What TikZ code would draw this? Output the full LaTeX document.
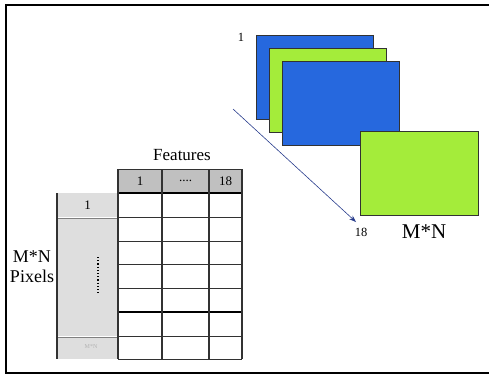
\documentclass[tikz,border=0pt]{standalone}
\usepackage{fontspec}
\setmainfont{Liberation Serif}
\usetikzlibrary{arrows.meta}
\definecolor{sblue}{RGB}{38,104,222}
\definecolor{sgreen}{RGB}{164,236,58}
\definecolor{hgray}{RGB}{192,192,192}
\definecolor{lgray}{RGB}{222,222,222}
\definecolor{tline}{RGB}{50,50,50}
\definecolor{arrowc}{RGB}{40,60,140}
\tikzset{
  sheet/.style={draw=tline, line width=1pt, anchor=north west, minimum width=117pt, minimum height=84pt, inner sep=0pt},
  bluesheet/.style={sheet, fill=sblue},
  greensheet/.style={sheet, fill=sgreen},
  lbl/.style={inner sep=0pt, font=\fontsize{12.5}{14}\selectfont},
  cellnum/.style={inner sep=0pt, font=\fontsize{13}{15}\selectfont},
  vline/.style={draw=tline, line width=1.6pt},
  hline/.style={draw=tline, line width=0.8pt},
}
\begin{document}
\begin{tikzpicture}[x=1pt,y=-1pt]
\useasboundingbox (0,0) rectangle (489,376);
% frame
\draw[line width=2pt, black] (6,5) rectangle (500,373);
% stack of sheets
\node[bluesheet] (s1) at (256,35) {};
\node[greensheet] (s2) at (269,48) {};
\node[bluesheet] (s3) at (282,61) {};
\node[greensheet, minimum width=118pt, minimum height=84pt] (s4) at (360,131) {};
\node[lbl] (n1) at (241,37) {1};
\node[lbl] (n18) at (361,232) {18};
\node[inner sep=0pt, font=\fontsize{21}{24}\selectfont] (mn) at (424,232) {M*N};
\coordinate (a0) at (233,109);
\coordinate (a1) at (356,222);
\draw[arrowc, line width=0.6pt, -{Stealth[length=7pt,width=5pt]}] (a0) -- (a1);
% table fills
\fill[hgray] (118,169) rectangle (242,193);
\fill[lgray] (57,193) rectangle (118,359);
% horizontal lines of grid
\foreach \y in {217,241,264,288,336,359} \draw[hline] (118,\y) -- (242,\y);
\draw[draw=black, line width=1.3pt] (118,312) -- (242,312);
\draw[draw=black, line width=1.4pt] (118,193) -- (242,193);
\draw[hline] (118,169) -- (242,169);
% left column separators
\draw[draw=white, line width=1pt] (57,217) -- (118,217);
\draw[draw=white, line width=1pt] (57,336) -- (118,336);
\draw[draw=gray, line width=0.5pt] (57,217.8) -- (118,217.8);
\draw[draw=gray, line width=0.5pt] (57,336.8) -- (118,336.8);
% vertical lines
\draw[vline] (57,193) -- (57,359);
\draw[vline] (118,169) -- (118,359);
\draw[vline] (162,169) -- (162,359);
\draw[vline] (209,169) -- (209,359);
\draw[vline] (242,169) -- (242,359);
% texts
\node[inner sep=0pt, font=\fontsize{17}{20}\selectfont] (feat) at (182,155) {Features};
\node[cellnum] (h1) at (140,181) {1};
\node[cellnum] (h2) at (185.5,181) {....};
\node[cellnum] (h3) at (225.5,181) {18};
\node[cellnum] (r1) at (87.5,205) {1};
\node[inner sep=0pt, align=center, font=\fontsize{18}{20}\selectfont] (pix) at (32,267) {M*N\\Pixels};
\draw[line width=1.2pt, dotted, black] (98,257) -- (98,294);
\node[inner sep=0pt, text=gray!60, font=\fontsize{6}{7}\selectfont] (rl) at (91,347) {M*N};
\end{tikzpicture}
\end{document}
